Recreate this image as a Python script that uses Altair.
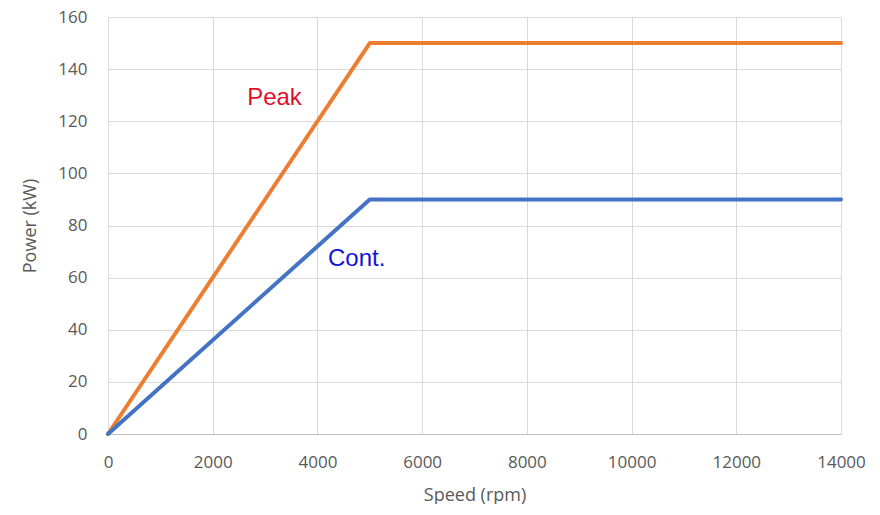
import altair as alt
import pandas as pd

speed = [0, 5000, 14000]
peak = [0, 150, 150]
cont = [0, 90, 90]

series_names = ["Peak", "Cont."]
series_colors = ["#ED7D31", "#4472C4"]

label_text = ["Peak", "Cont."]
label_x = [3180, 4750]
label_y = [129, 67]
label_colors = ["#e0102a", "#1414d0"]

rows = []
for s, p, c in zip(speed, peak, cont):
    rows.append({"speed": s, "power": p, "series": "Peak"})
    rows.append({"speed": s, "power": c, "series": "Cont."})
df = pd.DataFrame(rows)

labels = pd.DataFrame({"text": label_text, "x": label_x, "y": label_y, "color": label_colors})

font = "Open Sans"
gray = "#595959"

x_enc = alt.X("speed:Q", scale=alt.Scale(domain=[0, 14000], nice=False),
              axis=alt.Axis(title="Speed (rpm)", values=list(range(0, 14001, 2000)),
                            format="d", grid=True, gridColor="#d9d9d9", ticks=False,
                            domainColor="#bfbfbf", labelPadding=20, titlePadding=16,
                            labelFlush=False,
                            labelFontSize=17, titleFontSize=18, labelColor=gray, titleColor=gray,
                            labelFont=font, titleFont=font, titleFontWeight="normal"))
y_enc = alt.Y("power:Q", scale=alt.Scale(domain=[0, 160], nice=False),
              axis=alt.Axis(title="Power (kW)", values=list(range(0, 161, 20)),
                            grid=True, gridColor="#d9d9d9", ticks=False, domain=False,
                            labelPadding=21, titlePadding=18,
                            labelFontSize=17, titleFontSize=18, labelColor=gray, titleColor=gray,
                            labelFont=font, titleFont=font, titleFontWeight="normal"))

lines = alt.Chart(df).mark_line(strokeWidth=4, strokeCap="round", strokeJoin="round").encode(
    x=x_enc, y=y_enc,
    color=alt.Color("series:N", scale=alt.Scale(domain=series_names, range=series_colors), legend=None),
    detail="series:N",
)

text = alt.Chart(labels).mark_text(font="Liberation Sans", fontSize=24, align="center", baseline="middle").encode(
    x="x:Q", y="y:Q", text="text:N",
    color=alt.Color("color:N", scale=None),
)

chart = alt.layer(lines, text).properties(
    width=733, height=417,
    autosize=alt.AutoSizeParams(type="none"),
    padding={"left": 100, "top": 9, "right": 30, "bottom": 70},
).configure_view(stroke=None)

chart.save("out.html", embed_options={"renderer": "svg", "actions": False})
